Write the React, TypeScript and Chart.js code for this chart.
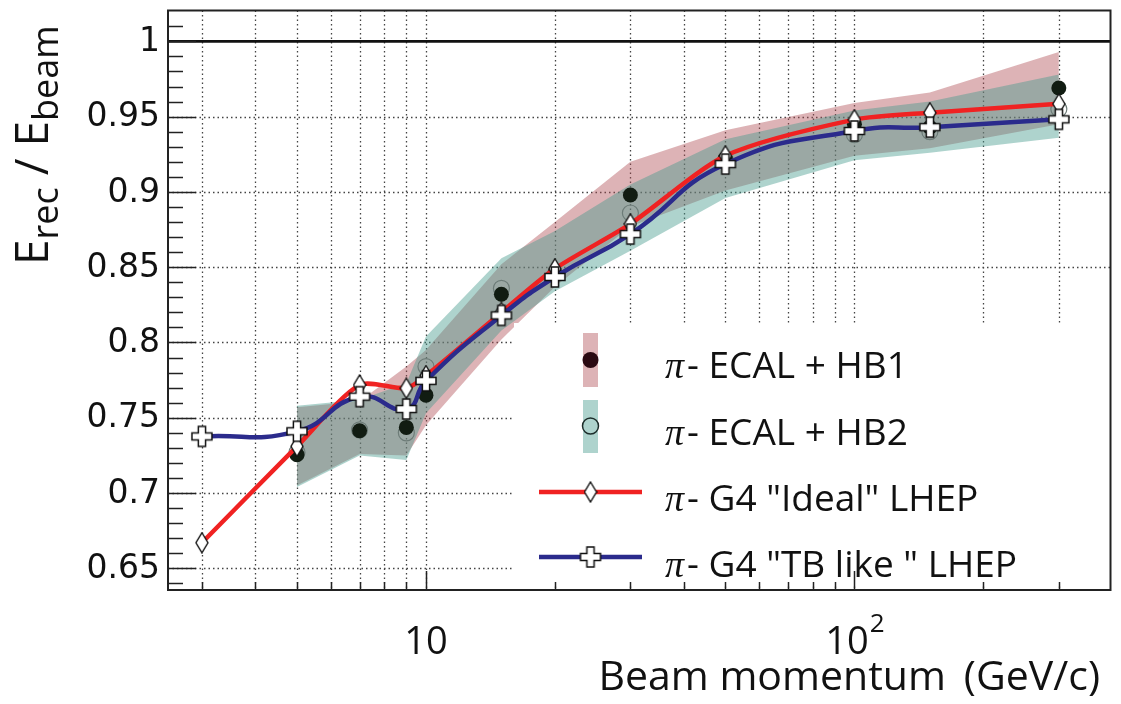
import React, { useEffect, useRef } from 'react';
import { Chart, registerables } from 'chart.js';
Chart.register(...registerables);

// ---------- data ----------
const g4Momenta = [3, 5, 7, 9, 10, 15, 20, 30, 50, 100, 150, 300];
const g4Ideal = [0.667, 0.731, 0.7718, 0.7696, 0.778, 0.82, 0.849, 0.8788, 0.924, 0.948, 0.9526, 0.9585];
const g4TBlike = [0.7376, 0.741, 0.764, 0.7558, 0.7745, 0.818, 0.8435, 0.872, 0.9185, 0.9405, 0.943, 0.9482];

const dataMomenta = [5, 7, 9, 10, 15, 20, 30, 50, 100, 150, 300];
const hb1 = [0.7255, 0.7414, 0.7436, 0.765, 0.832, 0.846, 0.898, 0.922, 0.945, 0.943, 0.969];
const hb1Low = [0.705, 0.726, 0.725, 0.745, 0.802, 0.837, 0.877, 0.901, 0.924, 0.929, 0.945];
const hb1High = [0.757, 0.761, 0.784, 0.795, 0.852, 0.88, 0.92, 0.941, 0.959, 0.966, 0.993];
const hb2 = [0.727, 0.742, 0.74, 0.784, 0.836, 0.845, 0.886, 0.921, 0.938, 0.94, 0.955];
const hb2Low = [0.704, 0.725, 0.722, 0.753, 0.808, 0.834, 0.861, 0.896, 0.921, 0.926, 0.936];
const hb2High = [0.758, 0.762, 0.773, 0.804, 0.856, 0.874, 0.905, 0.935, 0.954, 0.96, 0.978];

const xGridValues = [3, 4, 5, 6, 7, 8, 9, 10, 20, 30, 40, 50, 60, 70, 80, 90, 100, 200, 300];
const xMajorTicks = [10, 100];
const yGridValues = [0.65, 0.7, 0.75, 0.8, 0.85, 0.9, 0.95];
const yTickLabels = ['0.65', '0.7', '0.75', '0.8', '0.85', '0.9', '0.95', '1'];
const yTickLabelValues = [0.65, 0.7, 0.75, 0.8, 0.85, 0.9, 0.95, 1];

const legendLabels = ['- ECAL + HB1', '- ECAL + HB2', '- G4 "Ideal" LHEP', '- G4 "TB like " LHEP'];

const X_MIN = 2.5;
const X_MAX = 396;
const Y_MIN = 0.6356;
const Y_MAX = 1.0205;

const PINK = 'rgba(175,75,80,0.42)';
const TEAL = 'rgba(70,155,142,0.44)';
const RED = '#f02222';
const BLUE = '#2b2b8c';

function makeDiamond(): HTMLCanvasElement {
  const c = document.createElement('canvas');
  c.width = 14; c.height = 22;
  const g = c.getContext('2d')!;
  g.beginPath();
  g.moveTo(7, 1); g.lineTo(13, 11); g.lineTo(7, 21); g.lineTo(1, 11); g.closePath();
  g.fillStyle = '#fff'; g.fill();
  g.strokeStyle = '#111'; g.lineWidth = 1.4; g.stroke();
  return c;
}

function makeCross(): HTMLCanvasElement {
  const c = document.createElement('canvas');
  c.width = 24; c.height = 24;
  const g = c.getContext('2d')!;
  const m = 12, a = 3.6, e = 10;
  const pts = [
    [m - a, m - e], [m + a, m - e], [m + a, m - a], [m + e, m - a], [m + e, m + a], [m + a, m + a],
    [m + a, m + e], [m - a, m + e], [m - a, m + a], [m - e, m + a], [m - e, m - a], [m - a, m - a],
  ];
  g.beginPath();
  pts.forEach((p, i) => (i ? g.lineTo(p[0], p[1]) : g.moveTo(p[0], p[1])));
  g.closePath();
  g.fillStyle = '#fff'; g.fill();
  g.strokeStyle = '#111'; g.lineWidth = 1.5; g.stroke();
  return c;
}

export default function App() {
  const ref = useRef<HTMLCanvasElement | null>(null);

  useEffect(() => {
    if (!ref.current) return;
    const diamond = makeDiamond();
    const cross = makeCross();

    const pts = (xs: number[], ys: number[]) => xs.map((x, i) => ({ x, y: ys[i] }));

    const decor = {
      id: 'decor',
      beforeDatasetsDraw(chart: any) {
        const { ctx, chartArea, scales } = chart;
        const { left, right, top, bottom } = chartArea;
        const xs = scales.x, ys = scales.y;
        ctx.save();
        ctx.strokeStyle = '#444';
        ctx.lineWidth = 1.3;
        ctx.setLineDash([1.5, 3]);
        xGridValues.forEach((v) => {
          const px = Math.round(xs.getPixelForValue(v)) + 0.5;
          ctx.beginPath(); ctx.moveTo(px, top); ctx.lineTo(px, bottom); ctx.stroke();
        });
        yGridValues.forEach((v) => {
          const py = Math.round(ys.getPixelForValue(v)) + 0.5;
          ctx.beginPath(); ctx.moveTo(left, py); ctx.lineTo(right, py); ctx.stroke();
        });
        ctx.setLineDash([]);
        const p1 = ys.getPixelForValue(1);
        ctx.strokeStyle = '#111';
        ctx.lineWidth = 2.6;
        ctx.beginPath(); ctx.moveTo(left, p1); ctx.lineTo(right, p1); ctx.stroke();
        ctx.restore();
      },
      afterDatasetsDraw(chart: any) {
        const { ctx, chartArea, scales } = chart;
        const { left, right, top, bottom } = chartArea;
        const xs = scales.x, ys = scales.y;
        ctx.save();

        // legend box
        ctx.fillStyle = '#fff';
        ctx.fillRect(514, 323, 596, 262);
        // swatches
        ctx.fillStyle = PINK; ctx.fillRect(583, 333, 15, 54);
        ctx.fillStyle = TEAL; ctx.fillRect(583, 400, 15, 53);
        ctx.beginPath(); ctx.arc(590.5, 360, 8, 0, Math.PI * 2);
        ctx.fillStyle = '#2a0a12'; ctx.fill();
        ctx.beginPath(); ctx.arc(590.5, 426, 8, 0, Math.PI * 2);
        ctx.strokeStyle = '#1d2d2a'; ctx.lineWidth = 1.5; ctx.stroke();
        ctx.lineWidth = 4.5;
        ctx.strokeStyle = RED; ctx.beginPath(); ctx.moveTo(539, 492); ctx.lineTo(642, 492); ctx.stroke();
        ctx.drawImage(diamond, 590.5 - diamond.width / 2, 492 - diamond.height / 2);
        ctx.strokeStyle = BLUE; ctx.beginPath(); ctx.moveTo(539, 557); ctx.lineTo(642, 557); ctx.stroke();
        ctx.drawImage(cross, 590.5 - cross.width / 2, 557 - cross.height / 2);
        const baselines = [378, 445, 511, 577];
        ctx.fillStyle = '#111';
        ctx.textBaseline = 'alphabetic';
        ctx.textAlign = 'left';
        legendLabels.forEach((t, i) => {
          ctx.font = "italic 38px 'Liberation Serif'";
          ctx.fillText('\u03c0', 665, baselines[i]);
          ctx.font = "37px 'Open Sans'";
          ctx.fillText(t, 687, baselines[i]);
        });

        // frame
        ctx.strokeStyle = '#222';
        ctx.lineWidth = 2;
        ctx.strokeRect(left, top, right - left, bottom - top);

        // y ticks
        ctx.lineWidth = 1.5;
        for (let k = 64; k <= 102; k++) {
          const v = k / 100;
          if (v < Y_MIN || v > Y_MAX - 0.003) continue;
          const py = Math.round(ys.getPixelForValue(v)) + 0.5;
          const len = k % 5 === 0 ? 28 : 15;
          ctx.beginPath(); ctx.moveTo(left, py); ctx.lineTo(left + len, py); ctx.stroke();
        }
        // x ticks
        xGridValues.forEach((v) => {
          const px = Math.round(xs.getPixelForValue(v)) + 0.5;
          const len = xMajorTicks.includes(v) ? 19 : 8;
          ctx.beginPath(); ctx.moveTo(px, bottom); ctx.lineTo(px, bottom - len); ctx.stroke();
        });

        // y tick labels
        ctx.fillStyle = '#111';
        ctx.font = "33px 'DejaVu Sans'";
        ctx.textAlign = 'right';
        ctx.textBaseline = 'middle';
        yTickLabelValues.forEach((v, i) => {
          ctx.fillText(yTickLabels[i], 160, ys.getPixelForValue(v) + 1);
        });

        // x tick labels
        ctx.textBaseline = 'alphabetic';
        ctx.textAlign = 'center';
        ctx.font = "38px 'Open Sans'";
        ctx.fillText('10', xs.getPixelForValue(10), 654);
        const p100 = xs.getPixelForValue(100);
        const w10 = ctx.measureText('10').width;
        ctx.font = "26px 'Open Sans'";
        const w2 = ctx.measureText('2').width;
        const start = p100 - (w10 + w2) / 2;
        ctx.textAlign = 'left';
        ctx.fillText('2', start + w10 + 1, 632);
        ctx.font = "38px 'Open Sans'";
        ctx.fillText('10', start, 654);

        // x title
        ctx.textAlign = 'right';
        ctx.font = "41px 'Open Sans'";
        ctx.fillText('(GeV/c)', 1100, 690);
        const wg = ctx.measureText('(GeV/c)').width;
        ctx.font = "500 41px 'Open Sans'";
        ctx.fillText('Beam momentum', 1100 - wg - 18, 690);

        // y title (rotated)
        ctx.translate(48, 265);
        ctx.rotate(-Math.PI / 2);
        ctx.textAlign = 'left';
        let cx = 0;
        const big = "46px 'Open Sans'", small = "36px 'Open Sans'";
        ctx.font = big; ctx.fillText('E', cx, 0); cx += ctx.measureText('E').width;
        ctx.font = small; ctx.fillText('rec', cx, 10); cx += ctx.measureText('rec').width;
        ctx.font = big; ctx.fillText(' / E', cx, 0); cx += ctx.measureText(' / E').width;
        ctx.font = small; ctx.fillText('beam', cx, 10);

        ctx.restore();
      },
    };

    const chart = new Chart(ref.current, {
      type: 'line',
      data: {
        datasets: [
          { data: pts(dataMomenta, hb1Low), borderWidth: 0, pointRadius: 0, fill: false, tension: 0, order: 20 } as any,
          { data: pts(dataMomenta, hb1High), borderWidth: 0, pointRadius: 0, fill: '-1', backgroundColor: PINK, tension: 0, order: 19 },
          { data: pts(dataMomenta, hb2Low), borderWidth: 0, pointRadius: 0, fill: false, tension: 0, order: 18 },
          { data: pts(dataMomenta, hb2High), borderWidth: 0, pointRadius: 0, fill: '-1', backgroundColor: TEAL, tension: 0, order: 17 },
          {
            data: pts(dataMomenta, hb2), showLine: false, pointStyle: 'circle', pointRadius: 8,
            pointBackgroundColor: 'rgba(0,0,0,0)', pointBorderColor: '#6d7c78', pointBorderWidth: 1.2, order: 16,
          },
          {
            data: pts(dataMomenta, hb1), showLine: false, pointStyle: 'circle', pointRadius: 7.5,
            pointBackgroundColor: '#111c12', pointBorderColor: '#111c12', pointBorderWidth: 0, order: 15,
          },
          {
            data: pts(g4Momenta, g4Ideal), borderColor: RED, borderWidth: 4.5, tension: 0.25, fill: false,
            pointStyle: diamond as any, pointRadius: 6, order: 14,
          },
          {
            data: pts(g4Momenta, g4TBlike), borderColor: BLUE, borderWidth: 4.5, tension: 0.5, fill: false,
            pointStyle: cross as any, pointRadius: 6, order: 13,
          },
        ],
      },
      options: {
        animation: false,
        responsive: false,
        events: [],
        layout: { padding: { left: 168, top: 9, right: 6, bottom: 114 } },
        scales: {
          x: { type: 'logarithmic', min: X_MIN, max: X_MAX, display: false },
          y: { type: 'linear', min: Y_MIN, max: Y_MAX, display: false },
        },
        plugins: {
          legend: { display: false },
          tooltip: { enabled: false },
        },
      },
      plugins: [decor],
    });
    return () => chart.destroy();
  }, []);

  return (
    <div style={{ position: 'fixed', left: 0, top: 0, width: 1121, height: 704, background: '#fff' }}>
      <canvas ref={ref} width={1121} height={704} style={{ display: 'block' }} />
    </div>
  );
}
